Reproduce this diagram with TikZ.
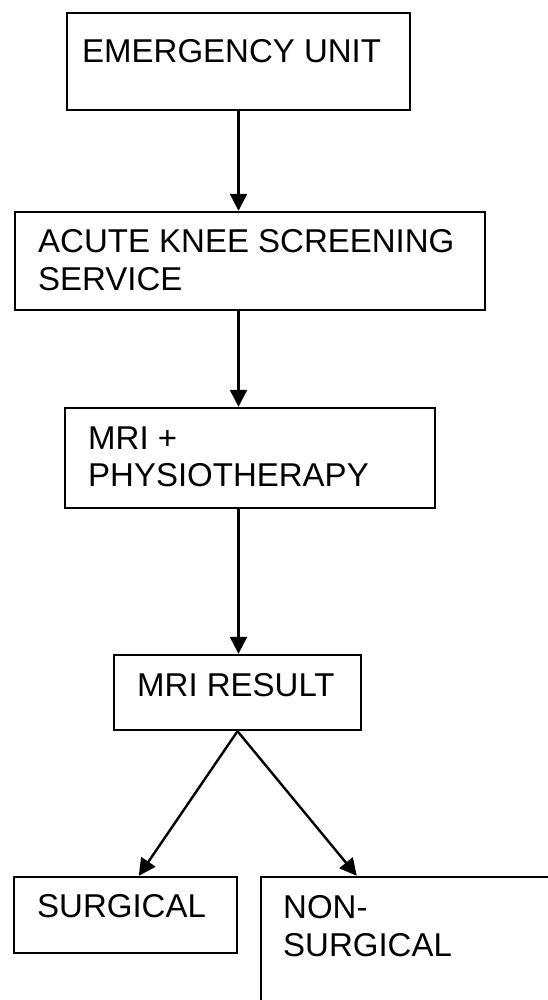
\documentclass[tikz,border=0pt]{standalone}
\usepackage{fontspec}
\setmainfont{Liberation Sans}
\usetikzlibrary{arrows.meta}
\begin{document}
\begin{tikzpicture}[x=1pt,y=-1pt,
  box/.style={draw,line width=2.4pt,inner sep=0pt,rectangle},
  label text/.style={anchor=north west,inner sep=0pt,align=left,
    font=\fontsize{33}{37.5}\selectfont},
  flow/.style={line width=2.4pt,-{Triangle[width=17pt,length=17pt]}}]
  \useasboundingbox (0,0) rectangle (548,1000);
  \clip (0,0) rectangle (548,1000);

  % boxes
  \node[box,minimum width=343pt,minimum height=97pt]  (eu)  at (238.5,61.5) {};
  \node[box,minimum width=470pt,minimum height=98pt]  (aks) at (250,261) {};
  \node[box,minimum width=370pt,minimum height=100pt] (mri) at (250,458) {};
  \node[box,minimum width=247pt,minimum height=75pt]  (res) at (237.5,692.5) {};
  \node[box,minimum width=223pt,minimum height=76pt]  (sur) at (125.5,915) {};
  \node[box,minimum width=339pt,minimum height=200pt] (nsg) at (430.5,977) {};

  % texts
  \node[label text] (eut)  at (82,39.4)   {EMERGENCY UNIT};
  \node[label text] (akst) at (38,229.4)  {ACUTE KNEE SCREENING\\SERVICE};
  \node[label text] (mrit) at (88,426.4)  {MRI +\\PHYSIOTHERAPY};
  \node[label text] (rest) at (137,673.4) {MRI RESULT};
  \node[label text] (surt) at (37,894.4)  {SURGICAL};
  \node[label text] (nsgt) at (283,895.4) {NON-\\SURGICAL};

  % connectors
  \draw[flow] (eu.south) -- (aks.north -| eu.south);
  \draw[flow] (aks.south -| eu.south) -- (mri.north -| eu.south);
  \draw[flow] (mri.south -| eu.south) -- (res.north -| eu.south);
  \draw[flow] (res.south) -- ([xshift=126pt]sur.north west);
  \draw[flow] (res.south) -- ([xshift=97pt]nsg.north west);
\end{tikzpicture}
\end{document}
